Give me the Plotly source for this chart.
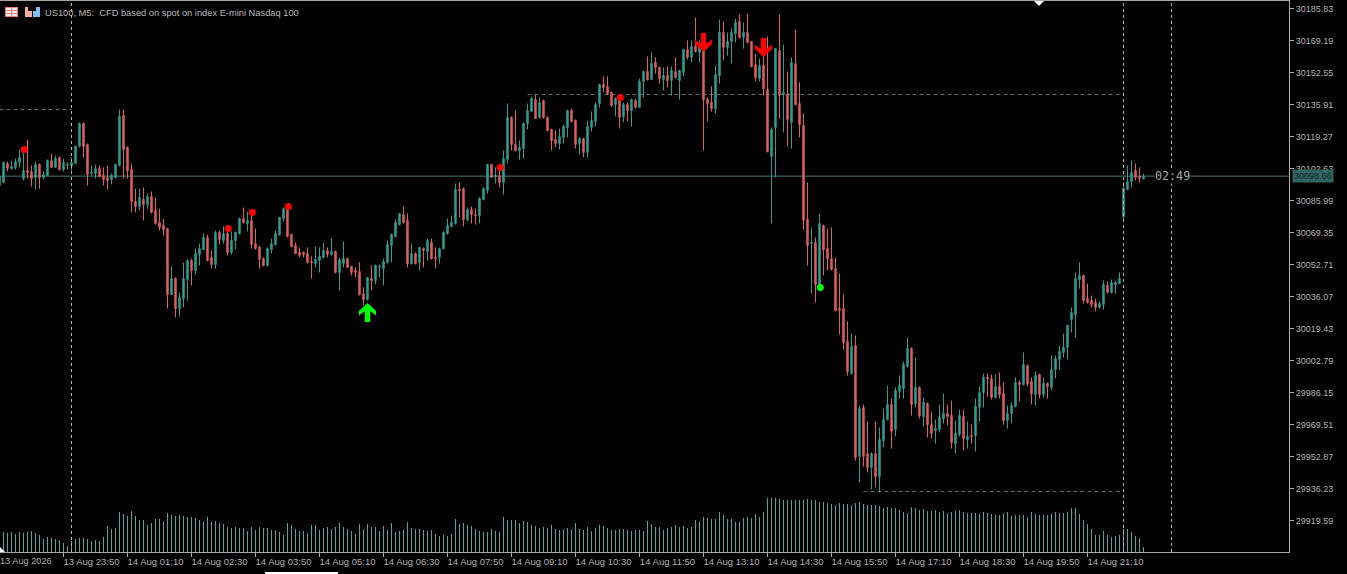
import plotly.graph_objects as go

BAR_INDEX = list(range(-1, 286))

OPENS = [30093.8,30095.4,30105.2,30102.6,30103.2,30105.8,30097.4,30101.6,30101.1,30098.0,30104.7,30098.0,30099.0,30106.8,30103.2,30108.4,30102.1,30104.2,30104.2,30105.2,30114.1,30126.0,30115.1,30100.0,30100.0,30102.6,30099.0,30098.0,30096.9,30098.0,30104.2,30130.2,30113.6,30102.1,30085.5,30082.9,30086.5,30083.9,30088.1,30080.8,30074.6,30073.0,30071.4,30037.1,30045.4,30029.8,30035.0,30044.9,30054.8,30049.6,30057.9,30060.5,30066.8,30056.4,30052.7,30069.4,30065.2,30068.8,30059.0,30065.2,30068.8,30076.6,30074.0,30075.6,30063.6,30061.6,30055.8,30052.2,30060.5,30063.1,30068.3,30076.6,30082.4,30068.3,30062.6,30059.0,30059.0,30058.4,30054.3,30053.2,30054.8,30056.4,30060.0,30057.9,30059.5,30048.6,30053.2,30055.8,30051.7,30049.6,30049.1,30037.6,30034.5,30045.4,30044.4,30051.2,30050.6,30053.8,30062.6,30067.3,30073.5,30078.7,30075.6,30053.2,30058.4,30053.8,30061.0,30059.5,30064.2,30056.4,30056.4,30061.0,30068.8,30072.5,30074.0,30091.7,30092.2,30076.1,30081.3,30078.7,30078.2,30086.5,30091.2,30104.7,30098.5,30099.0,30095.4,30107.3,30129.2,30115.1,30112.0,30113.0,30126.0,30132.3,30138.5,30129.2,30138.0,30129.2,30122.9,30117.7,30115.6,30118.8,30124.0,30132.8,30127.6,30115.6,30118.2,30111.0,30124.0,30127.1,30136.4,30146.3,30145.3,30142.2,30135.9,30139.0,30129.7,30135.9,30132.8,30138.0,30134.4,30147.9,30153.1,30148.9,30157.8,30155.2,30148.9,30151.0,30148.4,30153.1,30148.4,30152.6,30164.5,30160.4,30166.1,30163.0,30165.0,30138.5,30137.0,30133.8,30151.0,30173.4,30165.6,30168.7,30172.8,30179.1,30170.8,30173.4,30168.7,30156.7,30149.4,30156.2,30143.7,30108.9,30124.0,30164.0,30141.1,30141.6,30126.6,30157.2,30136.4,30125.0,30076.1,30063.6,30064.2,30041.8,30073.0,30061.0,30055.8,30050.6,30029.8,30029.8,30012.7,29996.0,30010.6,29952.9,29978.4,29954.4,29947.2,29954.4,29942.5,29961.2,29972.1,29979.9,29966.9,29986.7,29988.2,29999.7,30009.0,29980.4,29988.8,29973.7,29980.4,29969.5,29966.4,29966.9,29972.6,29975.2,29974.2,29959.6,29964.3,29973.7,29961.7,29963.8,29963.8,29978.4,29986.2,29994.0,29993.4,29983.6,29989.3,29985.6,29971.6,29975.2,29978.9,29991.4,29990.3,30000.2,29991.9,29985.1,29995.5,29985.1,29990.8,29988.8,29998.1,30003.3,30007.0,30009.6,30024.1,30026.7,30044.9,30047.0,30035.0,30034.0,30033.0,30030.4,30031.9,30041.8,30038.2,30042.3,30042.8,30077.7,30091.7,30095.9,30101.6,30098.5,30097.4]

HIGHS = [30100.6,30106.3,30106.3,30106.8,30107.8,30112.5,30112.0,30117.7,30104.2,30106.3,30105.2,30101.1,30107.3,30110.4,30109.4,30108.9,30107.8,30105.8,30108.4,30114.6,30126.6,30126.6,30115.6,30104.2,30104.7,30104.2,30103.2,30104.2,30100.0,30105.2,30133.3,30133.3,30114.1,30105.2,30092.2,30092.2,30092.8,30089.6,30090.7,30087.6,30081.8,30076.6,30071.4,30051.7,30046.0,30038.2,30053.8,30055.3,30055.8,30061.0,30063.6,30068.8,30068.3,30060.0,30070.4,30070.4,30072.5,30070.4,30069.9,30069.9,30077.2,30082.4,30080.3,30079.8,30071.4,30062.6,30056.4,30061.6,30066.2,30070.4,30077.2,30082.4,30083.4,30068.8,30064.2,30061.6,30059.5,30061.6,30056.9,30062.1,30061.6,30064.2,30061.6,30066.2,30060.0,30056.4,30064.7,30056.4,30051.7,30051.2,30053.8,30040.8,30046.0,30052.2,30052.7,30052.7,30055.8,30065.2,30068.8,30076.1,30079.2,30082.9,30079.2,30063.6,30059.0,30061.6,30061.6,30066.2,30066.2,30061.6,30061.6,30069.9,30076.6,30078.2,30094.8,30095.4,30092.8,30082.4,30082.9,30081.8,30087.6,30092.8,30104.7,30104.7,30103.2,30101.6,30112.0,30136.4,30129.7,30132.8,30117.2,30126.6,30136.4,30140.1,30141.1,30139.6,30138.5,30129.7,30123.4,30122.4,30123.4,30125.5,30133.3,30133.8,30128.1,30118.8,30118.2,30127.6,30132.3,30137.0,30146.8,30150.5,30150.5,30142.7,30139.6,30140.6,30137.0,30137.0,30139.0,30139.0,30149.4,30153.1,30160.9,30163.0,30160.4,30155.7,30155.2,30155.7,30155.7,30160.4,30154.1,30165.0,30169.2,30169.2,30181.2,30169.2,30169.2,30139.6,30145.3,30156.2,30180.1,30179.1,30173.4,30175.4,30180.6,30182.7,30178.6,30183.2,30168.7,30162.4,30159.8,30161.4,30171.3,30124.0,30165.0,30182.7,30167.1,30153.1,30160.4,30174.9,30147.4,30131.2,30095.4,30072.0,30066.8,30079.2,30073.5,30071.4,30072.0,30056.4,30048.0,30037.1,30023.1,30016.8,30015.8,29979.4,29979.9,29971.1,29955.0,29971.1,29968.0,29977.8,29989.8,29983.0,29988.8,29995.0,30002.3,30014.8,30009.6,30004.4,29989.3,29983.6,29981.0,29976.3,29972.1,29979.9,29985.6,29979.9,29982.0,29971.6,29977.3,29977.3,29971.1,29969.5,29983.0,29989.3,29996.0,29996.0,29995.5,29995.5,29996.6,29991.4,29979.4,29981.0,29994.0,29992.4,30007.0,30000.7,29994.0,29997.1,29996.0,29994.0,29991.4,30005.4,30005.4,30010.6,30016.8,30021.5,30030.4,30048.6,30053.8,30047.5,30042.8,30036.6,30035.0,30033.5,30044.4,30043.9,30044.9,30044.4,30048.6,30095.4,30104.2,30106.8,30105.2,30103.2,30100.0]

LOWS = [30090.7,30094.8,30101.1,30102.1,30102.1,30103.2,30096.4,30097.4,30093.3,30091.7,30092.2,30096.9,30098.5,30103.2,30103.2,30101.6,30101.1,30102.1,30101.6,30105.2,30113.6,30108.4,30093.8,30099.0,30097.4,30098.0,30093.8,30091.7,30094.3,30097.4,30103.7,30097.4,30097.4,30079.8,30079.8,30080.8,30075.6,30081.8,30079.2,30073.5,30070.4,30067.8,30029.8,30037.1,30025.2,30025.7,30030.4,30034.0,30041.8,30047.5,30052.2,30060.5,30054.3,30050.6,30050.6,30063.1,30063.6,30057.4,30057.9,30060.5,30068.3,30074.0,30069.9,30061.0,30060.5,30050.6,30051.7,30051.7,30058.4,30062.6,30067.8,30075.1,30066.8,30061.6,30058.4,30056.4,30056.4,30053.2,30045.4,30051.2,30048.6,30055.8,30056.4,30057.4,30048.0,30039.2,30051.2,30051.2,30047.0,30046.0,30036.6,30031.4,30034.0,30039.2,30042.3,30046.0,30041.8,30053.2,30053.8,30066.8,30073.0,30074.0,30051.2,30052.7,30052.7,30049.6,30051.2,30054.8,30055.3,30050.6,30053.2,30060.5,30068.3,30072.0,30073.5,30077.2,30072.5,30075.1,30074.0,30073.5,30074.0,30086.0,30089.6,30098.0,30094.8,30092.8,30089.1,30105.2,30112.0,30111.5,30107.3,30107.8,30122.9,30132.3,30128.6,30128.6,30128.6,30121.9,30112.0,30113.6,30112.5,30115.6,30118.8,30126.6,30113.0,30109.9,30108.4,30108.4,30121.9,30124.5,30134.4,30142.2,30141.1,30134.9,30129.7,30123.4,30126.6,30127.1,30124.5,30133.8,30134.4,30139.6,30148.4,30148.9,30152.0,30146.8,30143.2,30144.8,30140.6,30149.4,30138.5,30150.5,30159.3,30157.8,30163.0,30157.8,30112.0,30127.1,30132.3,30131.2,30146.8,30158.8,30161.4,30157.2,30168.2,30170.2,30165.0,30167.6,30155.2,30147.9,30147.9,30140.6,30111.0,30074.0,30098.0,30128.6,30121.4,30114.1,30113.0,30135.4,30118.8,30070.9,30052.2,30037.6,30033.0,30040.8,30047.0,30049.6,30049.6,30028.3,30016.3,30008.5,29995.0,29995.5,29950.8,29939.4,29947.7,29944.6,29935.7,29936.8,29934.2,29957.6,29971.6,29957.0,29963.3,29983.0,29983.0,29999.2,29974.2,29978.4,29972.6,29968.5,29962.8,29962.2,29959.6,29965.4,29970.0,29969.0,29957.0,29954.4,29963.3,29956.0,29957.0,29959.6,29955.5,29971.1,29978.4,29984.1,29982.5,29983.0,29983.0,29969.5,29967.4,29970.0,29978.4,29981.5,29989.8,29989.3,29979.9,29979.4,29983.0,29983.6,29983.0,29987.2,29993.4,29998.1,30004.4,30003.3,30017.4,30014.8,30040.2,30032.4,30032.4,30030.4,30028.3,30029.8,30029.3,30037.6,30037.6,30037.6,30042.8,30075.1,30091.7,30092.8,30096.4,30095.4,30096.9]

CLOSES = [30098.5,30105.8,30102.6,30103.7,30106.3,30108.4,30101.6,30100.6,30097.4,30104.7,30098.0,30099.5,30106.8,30103.2,30107.8,30102.1,30105.8,30104.7,30105.8,30114.1,30126.0,30114.1,30099.5,30100.6,30102.6,30098.5,30096.9,30096.4,30099.0,30104.7,30129.7,30112.5,30101.6,30085.5,30082.9,30087.6,30083.9,30088.1,30079.8,30074.0,30072.0,30070.9,30037.1,30045.4,30029.8,30035.6,30045.4,30054.8,30049.6,30058.4,30061.0,30066.8,30054.8,30052.7,30069.4,30065.7,30068.8,30059.0,30065.2,30069.4,30076.6,30074.6,30075.6,30063.1,30061.0,30055.3,30052.2,30061.0,30063.6,30068.8,30077.2,30081.8,30067.3,30062.1,30058.4,30057.4,30057.9,30053.8,30053.8,30055.3,30056.9,30060.0,30057.9,30059.5,30048.6,30055.3,30055.8,30051.2,30048.6,30048.6,30037.1,30034.5,30046.0,30044.4,30052.2,30051.7,30054.3,30063.1,30068.3,30074.6,30079.2,30074.6,30053.2,30058.4,30053.2,30061.6,30060.0,30065.2,30055.8,30055.8,30061.0,30069.4,30073.0,30074.6,30091.7,30091.2,30076.1,30081.3,30078.7,30078.2,30087.0,30092.2,30104.7,30098.0,30099.0,30095.4,30107.8,30129.2,30115.1,30112.0,30113.6,30126.0,30132.8,30139.0,30128.6,30137.0,30129.2,30122.4,30117.2,30115.6,30119.3,30124.5,30132.8,30127.1,30115.1,30118.2,30111.0,30124.5,30127.6,30135.9,30146.3,30144.8,30141.6,30135.4,30139.0,30129.2,30135.9,30132.8,30138.5,30134.4,30147.9,30153.1,30148.9,30157.2,30155.2,30149.4,30151.0,30148.4,30153.6,30150.0,30153.6,30164.5,30160.4,30166.1,30163.5,30167.6,30138.5,30136.4,30133.8,30151.5,30173.4,30165.6,30168.7,30173.4,30178.6,30170.8,30173.4,30168.2,30155.7,30150.0,30156.2,30144.2,30111.5,30122.9,30165.0,30140.6,30142.2,30128.1,30157.8,30135.9,30125.5,30075.6,30062.6,30064.2,30042.3,30074.0,30060.5,30055.8,30050.1,30028.8,30028.8,30012.2,29997.1,30010.1,29952.4,29977.8,29952.9,29947.2,29954.4,29942.5,29961.7,29972.1,29979.9,29965.9,29987.2,29989.8,30000.7,30009.0,29979.9,29988.8,29974.2,29981.0,29969.5,29964.8,29967.4,29973.2,29975.2,29973.7,29960.2,29964.8,29974.2,29962.2,29963.3,29963.3,29978.9,29986.2,29994.0,29993.4,29983.6,29989.3,29985.1,29971.6,29975.2,29979.4,29991.4,29990.3,30000.7,29990.8,29985.6,29995.0,29985.1,29990.8,29989.3,29998.1,30003.8,30007.5,30009.6,30021.0,30027.8,30045.4,30047.0,30034.0,30033.0,30031.9,30030.4,30032.4,30042.3,30038.2,30043.4,30043.4,30045.4,30092.2,30095.9,30100.6,30098.0,30097.4,30098.5]

VOLUMES = [0,200,190,200,180,200,190,200,210,190,170,130,150,140,130,120,90,60,110,130,140,140,130,110,120,110,150,260,230,240,400,380,360,410,360,320,320,270,290,330,330,300,390,370,360,370,360,350,350,340,320,300,350,300,310,290,280,250,240,250,240,240,210,250,220,250,240,240,220,220,200,170,290,270,230,210,210,190,270,270,220,240,250,230,250,290,250,230,210,180,280,230,280,250,250,210,260,220,290,200,210,220,300,240,230,230,220,210,220,180,160,170,160,180,330,280,290,270,260,230,210,200,200,230,210,200,350,320,320,320,290,310,300,270,260,240,250,240,270,230,220,230,240,230,290,230,220,250,210,240,270,260,240,220,220,230,230,220,210,220,220,210,310,280,250,250,220,240,250,270,250,260,240,250,320,300,350,340,330,330,400,370,330,330,300,300,340,350,340,380,350,400,540,540,540,530,520,520,520,520,520,520,530,520,520,500,500,490,480,470,490,480,480,470,490,500,480,470,470,470,460,440,450,440,440,420,400,390,450,440,420,430,410,410,420,400,410,390,400,410,420,400,390,390,390,380,400,390,380,370,370,390,400,360,370,370,370,350,400,380,370,370,370,380,400,390,390,400,440,440,380,320,280,230,170,170,210,170,150,160,170,230,230,200,160,140,50]

Y_TICKS = [30185.83,30169.19,30152.55,30135.91,30119.27,30102.63,30085.99,30069.35,30052.71,30036.07,30019.43,30002.79,29986.15,29969.51,29952.87,29936.23,29919.59]
Y_LABELS = [f"{v:.2f}" for v in Y_TICKS]

X_TICKS = [15,31,47,63,79,95,111,127,143,159,175,191,207,223,239,255,271]
X_LABELS = ["13 Aug 23:50","14 Aug 01:10","14 Aug 02:30","14 Aug 03:50","14 Aug 05:10","14 Aug 06:30","14 Aug 07:50","14 Aug 09:10","14 Aug 10:30","14 Aug 11:50","14 Aug 13:10","14 Aug 14:30","14 Aug 15:50","14 Aug 17:10","14 Aug 18:30","14 Aug 19:50","14 Aug 21:10"]
FIRST_LABEL = "13 Aug 2026"

RED_DOT_X = [5.2,56.2,62.2,71.2,124.2,154.2]
RED_DOT_Y = [30112.5,30071.4,30079.8,30082.9,30103.2,30139.6]
GREEN_DOT_X = [204.2]
GREEN_DOT_Y = [30040.8]
UP_ARROWS = [(91,30027.8)]
DOWN_ARROWS = [(175,30168.2),(190,30165.6)]

LAST_PRICE = 30098.66
COUNTDOWN = "02:49"
TITLE = "US100, M5:  CFD based on spot on index E-mini Nasdaq 100"
SEPARATORS = [17,280,292]
LEVELS = [(-1,17,30133.3),(131,279.5,30141.1),(215,279,29934.7)]

assert all(len(a) == len(BAR_INDEX) for a in (OPENS, HIGHS, LOWS, CLOSES, VOLUMES)), [len(a) for a in (OPENS, HIGHS, LOWS, CLOSES, VOLUMES)]

W, H = 1347, 574
PL, PR, PT, PB = 0, 1289, 1, 552
UP = "#2f9e91"
DOWN = "#df6060"
VOL = "#45ab9d"
FRAME = "#a8a8a8"
TEXT = "#b0b0b0"
FONT = "Liberation Sans"

def fx(x):
    return (x - PL) / (PR - PL)

def fy(y):
    return (PB - y) / (PB - PT)

fig = go.Figure()
fig.add_trace(go.Candlestick(
    x=BAR_INDEX, open=OPENS, high=HIGHS, low=LOWS, close=CLOSES,
    increasing=dict(line=dict(color=UP, width=1), fillcolor=UP),
    decreasing=dict(line=dict(color=DOWN, width=1), fillcolor=DOWN),
    whiskerwidth=0, showlegend=False, hoverinfo="skip",
))
vol_x, vol_y = [], []
for k, v in zip(BAR_INDEX, VOLUMES):
    vol_x += [k, k, None]
    vol_y += [0, v, None]
fig.add_trace(go.Scatter(x=vol_x, y=vol_y, yaxis="y2", mode="lines", connectgaps=False,
                         line=dict(color=VOL, width=1), showlegend=False, hoverinfo="skip"))
fig.add_trace(go.Scatter(x=RED_DOT_X, y=RED_DOT_Y, mode="markers",
                         marker=dict(color="#ff0000", size=7), showlegend=False, hoverinfo="skip"))
fig.add_trace(go.Scatter(x=GREEN_DOT_X, y=GREEN_DOT_Y, mode="markers",
                         marker=dict(color="#00ff00", size=7), showlegend=False, hoverinfo="skip"))

shapes = []
shapes.append(dict(type="line", xref="paper", x0=0, x1=1, yref="y", y0=LAST_PRICE, y1=LAST_PRICE,
                   line=dict(color="#4a7a75", width=1), layer="below"))
for k in SEPARATORS:
    shapes.append(dict(type="line", xref="x", x0=k, x1=k, yref="paper", y0=0, y1=1,
                       line=dict(color="#b4b4b4", width=1, dash="3px,3px"), layer="above"))
for a, b, p in LEVELS:
    shapes.append(dict(type="line", xref="x", x0=a, x1=b, yref="y", y0=p, y1=p,
                       line=dict(color="#5f716d", width=1, dash="4px,3px"), layer="below"))

ARROW = "M0,9.5 L8.5,1.5 L8.5,-3 L2.7,1.5 L2.7,-9.5 L-2.7,-9.5 L-2.7,1.5 L-8.5,-3 L-8.5,1.5 Z"
ARROW_DN = "M0,-9.5 L8.5,-1.5 L8.5,3 L2.7,-1.5 L2.7,9.5 L-2.7,9.5 L-2.7,-1.5 L-8.5,3 L-8.5,-1.5 Z"
for k, p in UP_ARROWS:
    shapes.append(dict(type="path", xref="x", yref="y", xsizemode="pixel", ysizemode="pixel",
                       xanchor=k, yanchor=p, path=ARROW, fillcolor="#00ff00", line=dict(width=0), layer="above"))
for k, p in DOWN_ARROWS:
    shapes.append(dict(type="path", xref="x", yref="y", xsizemode="pixel", ysizemode="pixel",
                       xanchor=k, yanchor=p, path=ARROW_DN, fillcolor="#ff0000", line=dict(width=0), layer="above"))

def rect(x0, y0, x1, y1, color):
    shapes.append(dict(type="rect", xref="paper", yref="paper", x0=fx(x0), x1=fx(x1), y0=fy(y0), y1=fy(y1),
                       fillcolor=color, line=dict(width=0), layer="above"))

def tri(path_pts, color):
    d = "M" + " L".join(f"{fx(a)},{fy(b)}" for a, b in path_pts) + " Z"
    shapes.append(dict(type="path", xref="paper", yref="paper", path=d, fillcolor=color, line=dict(width=0), layer="above"))

# chrome details: chart-shift markers, scrollbar, header icons
tri([(1034, 1), (1044, 1), (1039, 6)], "#ffffff")
tri([(0, 547), (5, 552), (0, 552)], "#ffffff")
rect(265, 572, 338, 574, "#ffffff")
rect(5, 7, 18, 17, "#f07c78")
rect(6, 8, 11, 10, "#fdeee9")
rect(6, 11, 11, 13, "#fdeee9")
rect(6, 14, 11, 16, "#fdeee9")
rect(12, 8, 17, 10, "#d6e8fa")
rect(12, 11, 17, 13, "#d6e8fa")
rect(12, 14, 17, 16, "#d6e8fa")
rect(25, 7, 32, 17, "#f4aca2")
rect(28, 7, 32, 11, "#000000")
rect(33, 7, 40, 17, "#7fc0f0")
rect(33, 7, 36, 11, "#000000")

annotations = [
    dict(xref="paper", yref="paper", x=fx(45), xshift=-2, y=fy(12.5), xanchor="left", yanchor="middle", showarrow=False,
         text=TITLE, font=dict(family=FONT, size=9.3, color="#b8b8b8")),
    dict(xref="paper", yref="paper", x=fx(0), xshift=-2, y=fy(561), xanchor="left", yanchor="middle", showarrow=False,
         text=FIRST_LABEL, font=dict(family=FONT, size=9.2, color=TEXT)),
    dict(xref="x", yref="y", x=287.5, y=LAST_PRICE, xanchor="left", yanchor="middle", showarrow=False,
         text=COUNTDOWN, font=dict(family="DejaVu Sans Mono", size=11.7, color="#a8a8a8"), bgcolor="#000000", borderpad=0),
    dict(xref="paper", yref="y", x=1, xshift=3, y=LAST_PRICE, xanchor="left", yanchor="middle", showarrow=False,
         text=f"{LAST_PRICE:.2f}", font=dict(family=FONT, size=9, color="#0f2b28"), bgcolor="#2f6460", borderpad=1),
]

fig.update_layout(
    width=W, height=H, autosize=False,
    margin=dict(l=PL, r=W - PR, t=PT, b=H - PB, pad=0),
    paper_bgcolor="#000000", plot_bgcolor="#000000",
    boxgap=0.5, showlegend=False,
    shapes=shapes, annotations=annotations,
    xaxis=dict(range=[-0.875, 321.375], rangeslider=dict(visible=False), showgrid=False, zeroline=False,
               tickmode="array", tickvals=X_TICKS, ticktext=X_LABELS, ticks="outside", ticklen=4, tickwidth=1,
               tickcolor=FRAME, ticklabelshift=28, ticklabelstandoff=-3,
               tickfont=dict(family=FONT, size=9.5, color=TEXT),
               showline=True, linecolor=FRAME, linewidth=1, mirror=True),
    yaxis=dict(range=[29903.22, 30189.74], side="right", showgrid=False, zeroline=False,
               tickmode="array", tickvals=Y_TICKS, ticktext=Y_LABELS, ticks="outside", ticklen=4, tickwidth=1,
               tickcolor=FRAME, tickfont=dict(family=FONT, size=9, color=TEXT),
               showline=True, linecolor=FRAME, linewidth=1),
    yaxis2=dict(overlaying="y", range=[0, 5510], visible=False, fixedrange=True),
)

fig.write_html("out.html", config=dict(displayModeBar=False, staticPlot=True),
               post_script="document.body.style.margin='0';document.body.style.background='#000';document.body.style.overflow='hidden';")
